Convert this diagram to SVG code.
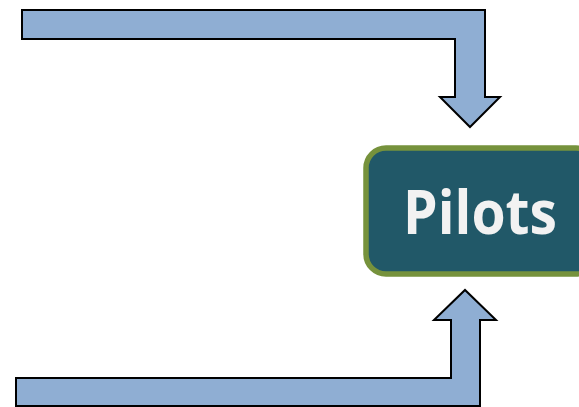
<svg xmlns="http://www.w3.org/2000/svg" width="579" height="407" viewBox="0 0 579 407">
  <style>
    .arrow { fill: #8faed3; stroke: #000; stroke-width: 2; stroke-linejoin: miter; }
    .box { fill: #215868; stroke: #76923c; stroke-width: 5.5; }
    .label { font-family: "Open Sans", "Noto Sans", sans-serif; font-weight: 700; font-size: 60px; fill: #f2f2f2; }
  </style>
  <rect width="579" height="407" fill="#fff"/>
  <g id="connectors">
    <!-- bent arrow coming in from the top -->
    <path class="arrow" d="M22,10 H485 V97 H500 L470,127 L440,97 H455 V39 H22 Z"/>
    <!-- bent arrow coming in from the bottom -->
    <path class="arrow" d="M16,406 H480 V320 H496 L465,290 L434,320 H451 V378 H16 Z"/>
  </g>
  <g id="pilots">
    <rect class="box" x="366" y="148" width="230" height="126" rx="20" ry="20"/>
    <text class="label" x="403" y="234" textLength="154" lengthAdjust="spacingAndGlyphs">Pilots</text>
  </g>
</svg>
